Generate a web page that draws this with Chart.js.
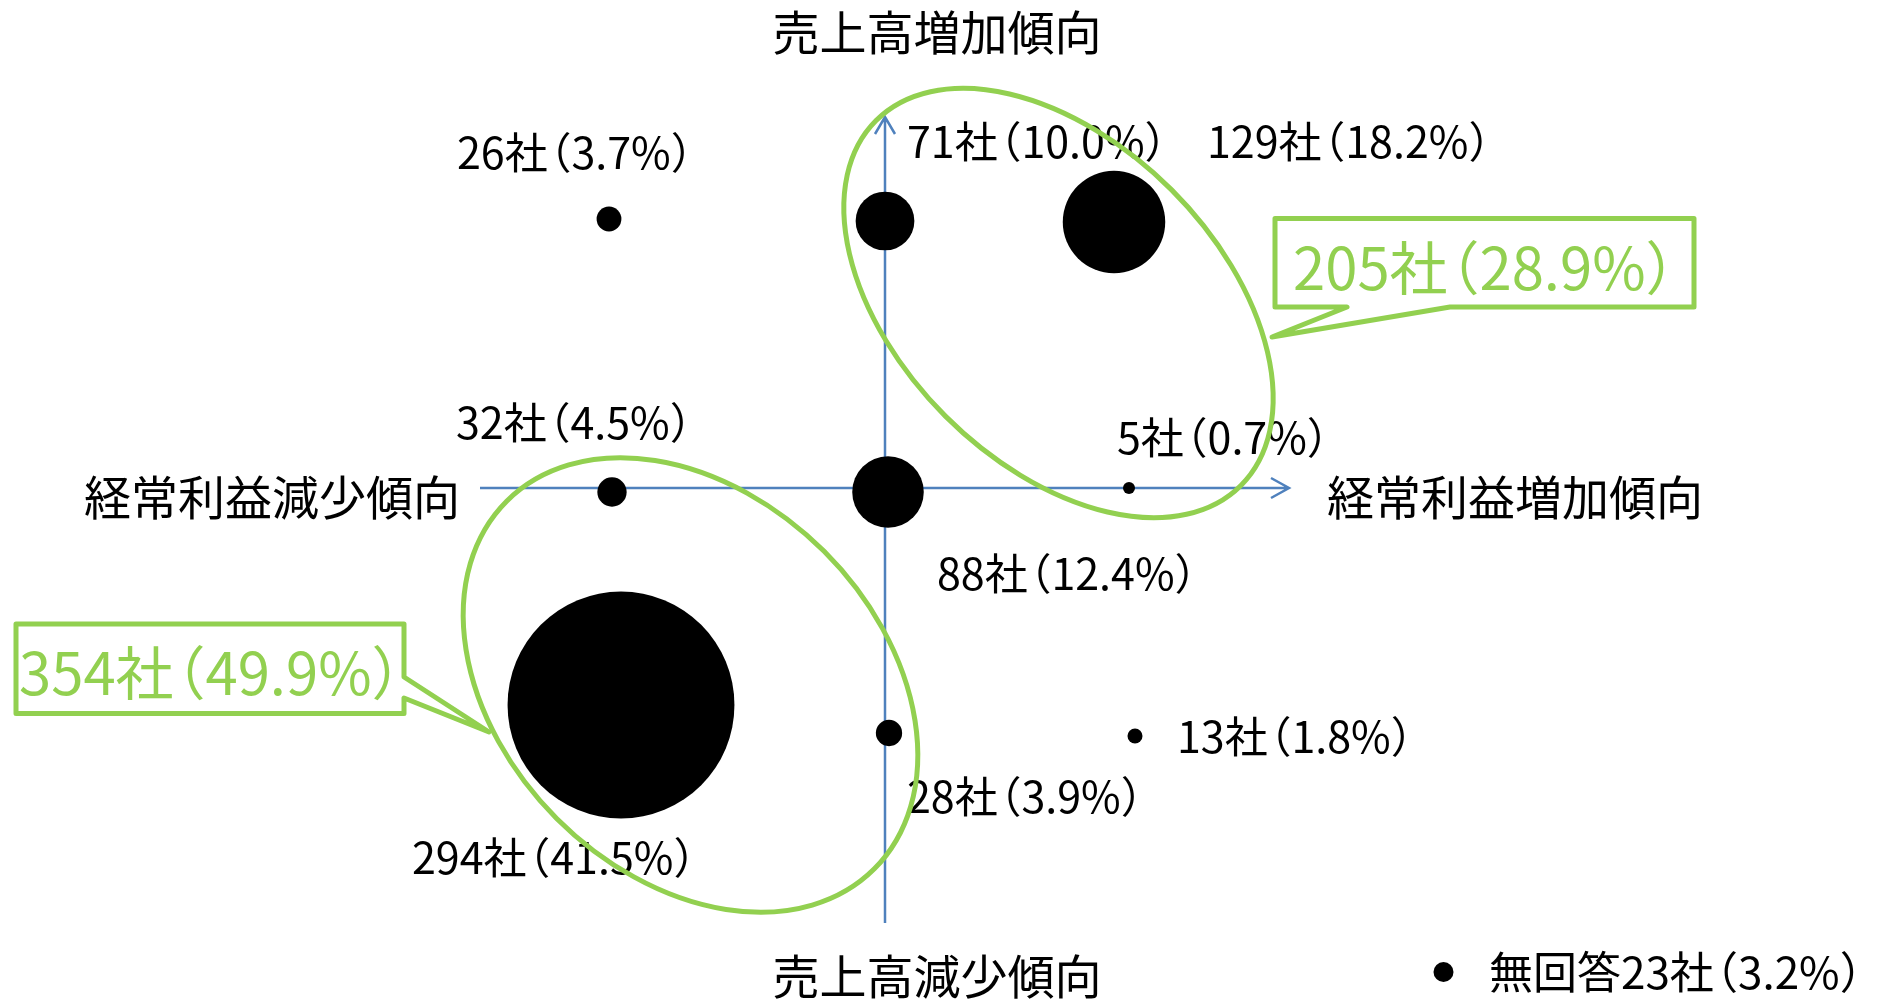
<!DOCTYPE html>
<html lang="ja">
<head>
<meta charset="utf-8">
<title>売上高・経常利益の傾向</title>
<script src="https://cdn.jsdelivr.net/npm/chart.js@4.4.1/dist/chart.umd.min.js"></script>
<style>
  html, body { margin: 0; background: #fff; }
  #wrap { width: 1883px; height: 1000px; position: relative; }
</style>
</head>
<body>
<div id="wrap"><canvas id="trendBubble"></canvas></div>
<script>
// 回答社数と構成比（経常利益 × 売上高の傾向別）
const companies = [26, 71, 129, 32, 88, 5, 294, 28, 13];
const shares = [3.7, 10.0, 18.2, 4.5, 12.4, 0.7, 41.5, 3.9, 1.8];
// 横：経常利益の傾向、縦：売上高の傾向（原点＝横ばい）
const profitTrend = [-2.76, 0, 2.29, -2.73, 0.03, 2.44, -2.64, 0.04, 2.50];
const salesTrend = [2.69, 2.67, 2.66, -0.04, -0.04, 0, -2.17, -2.45, -2.48];
// 囲みの合計
const groupCompanies = [205, 354];
const groupShares = [28.9, 49.9];
const noAnswer = [23, 3.2];
const axisTitles = ['売上高増加傾向', '売上高減少傾向', '経常利益減少傾向', '経常利益増加傾向'];

const GREEN = '#92d050';
const BLUE = '#4f81bd';
const JP = '"Noto Sans CJK JP", "Noto Sans", sans-serif';

// label placement: [dx from bubble to text start, dy to text middle] in px
const labelOffsets = [[-152, -66], [22, -79], [93, -80], [-156, -69], [49, 82],
  [-12, -50], [-209, 153], [18, 64], [42, 1]];

const label = (n, p) => n + '社（' + p.toFixed(1) + '%）';

// full-width brackets drawn with proportional spacing
function drawTight(ctx, text, x, y, size) {
  const trim = size * 0.45;
  for (const ch of text) {
    const w = ctx.measureText(ch).width;
    if (ch === '（') { ctx.fillText(ch, x - trim, y); x += w - trim; }
    else if (ch === '）') { ctx.fillText(ch, x, y); x += w - trim; }
    else { ctx.fillText(ch, x, y); x += w; }
  }
  return x;
}

const axesPlugin = {
  id: 'crossAxes',
  beforeDatasetsDraw(chart) {
    const { ctx, scales: { x, y } } = chart;
    const x0 = x.getPixelForValue(0), y0 = y.getPixelForValue(0);
    const left = x.getPixelForValue(-4.05), right = x.getPixelForValue(4.04);
    const top = y.getPixelForValue(3.71), bottom = y.getPixelForValue(-4.35);
    ctx.save();
    ctx.strokeStyle = BLUE;
    ctx.lineWidth = 2.5;
    ctx.beginPath();
    ctx.moveTo(left, y0); ctx.lineTo(right, y0);
    ctx.moveTo(right - 18, y0 - 10); ctx.lineTo(right, y0); ctx.lineTo(right - 18, y0 + 10);
    ctx.moveTo(x0, bottom); ctx.lineTo(x0, top);
    ctx.moveTo(x0 - 10, top + 17); ctx.lineTo(x0, top); ctx.lineTo(x0 + 10, top + 17);
    ctx.stroke();

    ctx.fillStyle = '#000';
    ctx.font = '47px ' + JP;
    ctx.textBaseline = 'middle';
    ctx.textAlign = 'center';
    ctx.fillText(axisTitles[0], x.getPixelForValue(0.52), y.getPixelForValue(4.56));
    ctx.fillText(axisTitles[1], x.getPixelForValue(0.52), y.getPixelForValue(-4.88));
    ctx.textAlign = 'right';
    ctx.fillText(axisTitles[2], x.getPixelForValue(-4.25), y.getPixelForValue(-0.09));
    ctx.textAlign = 'left';
    ctx.fillText(axisTitles[3], x.getPixelForValue(4.42), y.getPixelForValue(-0.09));
    ctx.restore();
  }
};

const notesPlugin = {
  id: 'notes',
  afterDatasetsDraw(chart) {
    const { ctx, scales: { x, y } } = chart;
    const px = v => x.getPixelForValue(v), py = v => y.getPixelForValue(v);
    ctx.save();
    ctx.textBaseline = 'middle';
    ctx.textAlign = 'left';

    // bubble labels
    ctx.fillStyle = '#000';
    ctx.font = '43px ' + JP;
    chart.getDatasetMeta(0).data.forEach((pt, i) => {
      const [dx, dy] = labelOffsets[i];
      drawTight(ctx, label(companies[i], shares[i]), pt.x + dx, pt.y + dy, 43);
    });

    // no-answer note
    ctx.beginPath();
    ctx.arc(px(5.585), py(-4.84), 10, 0, Math.PI * 2);
    ctx.fill();
    ctx.font = '44px ' + JP;
    drawTight(ctx, '無回答' + label(noAnswer[0], noAnswer[1]), px(6.04), py(-4.84), 44);

    // group rings
    ctx.strokeStyle = GREEN;
    ctx.lineWidth = 5;
    ctx.beginPath();
    ctx.ellipse(px(1.735), py(1.85), 258, 160, Math.PI / 4, 0, Math.PI * 2);
    ctx.stroke();
    ctx.beginPath();
    ctx.ellipse(px(-1.945), py(-1.97), 260, 189, Math.PI / 4, 0, Math.PI * 2);
    ctx.stroke();

    // callouts
    ctx.lineJoin = 'round';
    ctx.fillStyle = '#fff';
    ctx.beginPath();
    ctx.moveTo(px(3.90), py(2.695)); ctx.lineTo(px(8.09), py(2.695));
    ctx.lineTo(px(8.09), py(1.81)); ctx.lineTo(px(5.65), py(1.81));
    ctx.lineTo(px(3.87), py(1.51)); ctx.lineTo(px(4.62), py(1.81));
    ctx.lineTo(px(3.90), py(1.81)); ctx.closePath();
    ctx.fill(); ctx.stroke();
    ctx.beginPath();
    ctx.moveTo(px(-8.69), py(-1.36)); ctx.lineTo(px(-4.81), py(-1.36));
    ctx.lineTo(px(-4.81), py(-1.89)); ctx.lineTo(px(-3.96), py(-2.44));
    ctx.lineTo(px(-4.81), py(-2.10)); ctx.lineTo(px(-4.81), py(-2.255));
    ctx.lineTo(px(-8.69), py(-2.255)); ctx.closePath();
    ctx.fill(); ctx.stroke();

    ctx.fillStyle = GREEN;
    ctx.font = '58px ' + JP;
    drawTight(ctx, label(groupCompanies[0], groupShares[0]), px(4.08), py(2.20), 58);
    drawTight(ctx, label(groupCompanies[1], groupShares[1]), px(-8.66), py(-1.85), 58);
    ctx.restore();
  }
};

new Chart(document.getElementById('trendBubble'), {
  type: 'bubble',
  data: {
    datasets: [{
      data: companies.map((n, i) => ({
        x: profitTrend[i],
        y: salesTrend[i],
        r: Math.max(6, 2.6 + 0.377 * n)
      })),
      backgroundColor: '#000',
      borderWidth: 0,
      hoverRadius: 0
    }]
  },
  options: {
    responsive: true,
    maintainAspectRatio: false,
    animation: false,
    events: [],
    layout: { padding: 0, autoPadding: false },
    plugins: { legend: { display: false }, tooltip: { enabled: false } },
    scales: {
      x: { type: 'linear', min: -8.85, max: 9.98, display: false },
      y: { type: 'linear', min: -5.12, max: 4.88, display: false }
    }
  },
  plugins: [axesPlugin, notesPlugin]
});
</script>
</body>
</html>
